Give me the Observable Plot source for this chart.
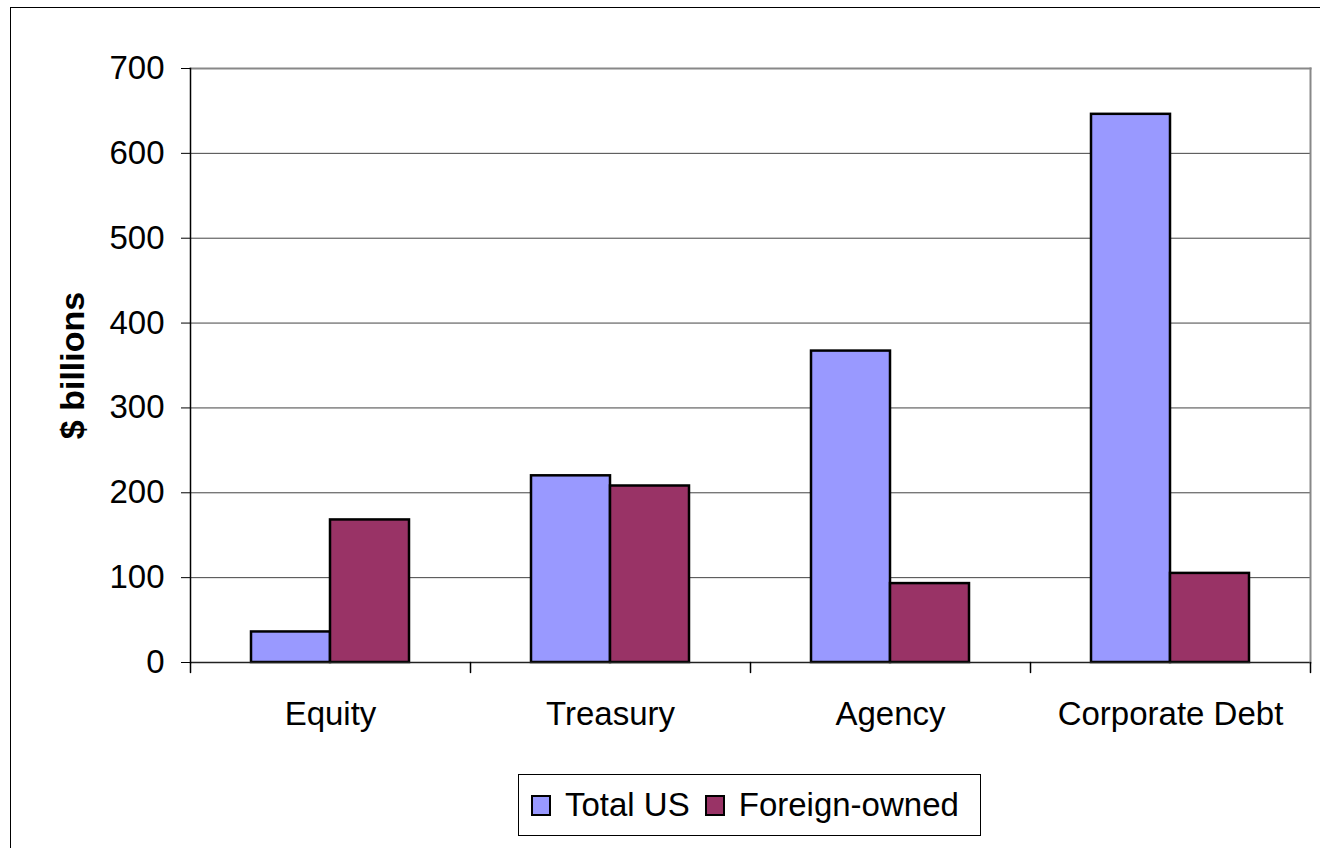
<!DOCTYPE html>
<html><head><meta charset="utf-8">
<script src="https://cdn.jsdelivr.net/npm/d3@7"></script>
<script src="https://cdn.jsdelivr.net/npm/@observablehq/plot@0.6"></script>
<style>
body{margin:0;background:#fff;font-family:"Liberation Sans",Arial,sans-serif;}
#wrap{position:relative;width:1320px;height:848px;overflow:hidden;background:#fff;}
#border{position:absolute;left:10px;top:7px;width:2000px;height:2000px;border-left:1.5px solid #000;border-top:1.5px solid #000;pointer-events:none;}
#chart{position:absolute;left:0;top:0;}
#legend{position:absolute;left:518px;top:774px;width:461px;height:60px;border:1px solid #000;display:flex;align-items:center;font-size:33px;color:#000;background:#fff;}
.sw{display:inline-block;width:16px;height:17px;border:2px solid #000;margin-left:12px;margin-right:14px;}
.sw2{margin-left:15px;}
</style></head>
<body>
<div id="wrap"><div id="chart"></div><div id="legend"></div><div id="border"></div></div>
<script>
const categories = ["Equity", "Treasury", "Agency", "Corporate Debt"];
const series = ["Total US", "Foreign-owned"];
const totalUS = [36, 220, 367, 646];
const foreignOwned = [168, 208, 93, 105];
const yTicks = [0, 100, 200, 300, 400, 500, 600, 700];
const colors = ["#9999FF", "#993366"];
const yLabel = "$ billions";

const data = categories.flatMap((c, i) => [
  {category: c, series: series[0], value: totalUS[i]},
  {category: c, series: series[1], value: foreignOwned[i]}
]);

const W = 1320, H = 760, mL = 189, mR = 9, mT = 68, mB = 98;
const tickShape = {draw(context, l) { context.moveTo(0, 0); context.lineTo(0, -l); }};

const plot = Plot.plot({
  width: W, height: H,
  marginLeft: mL, marginRight: mR, marginTop: mT, marginBottom: mB,
  style: {fontFamily: "Liberation Sans, Arial, sans-serif", fontSize: "33px", color: "#000", background: "transparent", overflow: "visible"},
  fx: {domain: categories, padding: 0, label: null},
  x: {domain: series, paddingInner: 0, paddingOuter: 0.753, axis: null},
  y: {domain: [0, 700], label: null},
  color: {domain: series, range: colors},
  marks: [
    Plot.gridY(yTicks.filter(t => t > 0 && t < 700), {stroke: "#444", strokeOpacity: 1, strokeWidth: 1}),
    Plot.barY(data, {fx: "category", x: "series", y: "value", fill: "series", stroke: "#000", strokeWidth: 2.5}),
    Plot.ruleY([0], {stroke: "#222", strokeWidth: 1.5}),
    Plot.frame({facet: "super", anchor: "top", stroke: "#888", strokeWidth: 2}),
    Plot.frame({facet: "super", anchor: "right", stroke: "#888", strokeWidth: 2}),
    Plot.frame({facet: "super", anchor: "left", stroke: "#000", strokeWidth: 1.5}),
    Plot.vector([0], {frameAnchor: "bottom-left", length: 10, rotate: 180, anchor: "start", shape: tickShape, stroke: "#000", strokeWidth: 1.5}),
    Plot.vector([0], {facet: "super", frameAnchor: "bottom-right", length: 10, rotate: 180, anchor: "start", shape: tickShape, stroke: "#000", strokeWidth: 1.5}),
    Plot.axisY({ticks: yTicks, tickSize: 9, tickPadding: 17, tickFormat: d => String(d), label: null, stroke: "#000"}),
    Plot.axisFx({anchor: "bottom", tickSize: 0, tickPadding: 39, label: null}),
    Plot.text([yLabel], {facet: "super", frameAnchor: "left", rotate: -90, dx: -117, textAnchor: "middle", fontWeight: "bold", fontSize: 34, fill: "#000"})
  ]
});
document.getElementById("chart").appendChild(plot);

const legend = document.getElementById("legend");
series.forEach((s, i) => {
  const sw = document.createElement("span");
  sw.className = "sw" + (i > 0 ? " sw2" : "");
  sw.style.background = colors[i];
  const t = document.createElement("span");
  t.textContent = s;
  legend.appendChild(sw);
  legend.appendChild(t);
});
</script>
</body></html>
